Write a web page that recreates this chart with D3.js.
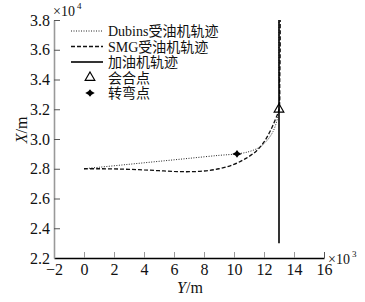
<!DOCTYPE html>
<html>
<head>
<meta charset="utf-8">
<script src="https://cdn.jsdelivr.net/npm/d3@7"></script>
<style>
  body { margin: 0; background: #fff; }
  svg text { font-family: "Liberation Serif", "Noto Sans CJK SC", serif; fill: #111; }
</style>
</head>
<body>
<div id="chart"></div>
<script>
// 数据 (Y ×10^3 m, X ×10^4 m)
const xTicks = [-2, 0, 2, 4, 6, 8, 10, 12, 14, 16];
const yTicks = [2.2, 2.4, 2.6, 2.8, 3.0, 3.2, 3.4, 3.6, 3.8];

const dubinsY = [0, 1, 3, 5, 7, 9, 10.2, 11, 11.7, 12.2, 12.6, 12.85, 13, 13, 13];
const dubinsX = [2.8, 2.81, 2.83, 2.85, 2.87, 2.89, 2.9, 2.915, 2.945, 2.99, 3.05, 3.12, 3.2, 3.5, 3.8];

const smgY = [0, 1, 2, 3, 4, 5, 6, 7, 8, 9, 10, 10.8, 11.5, 12, 12.4, 12.75, 13, 13.05, 13.08, 13.08];
const smgX = [2.8, 2.8, 2.799, 2.796, 2.792, 2.787, 2.782, 2.78, 2.785, 2.8, 2.83, 2.87, 2.92, 2.98, 3.05, 3.13, 3.2, 3.4, 3.6, 3.8];

const tankerY = [13, 13];
const tankerX = [2.3, 3.8];

const meetPoint = [13, 3.2];
const turnPoint = [10.2, 2.9];

const legendNames = ['Dubins受油机轨迹', 'SMG受油机轨迹', '加油机轨迹', '会合点', '转弯点'];

const W = 365, H = 302;
const m = {left: 54, right: 41, top: 20, bottom: 44};

const svg = d3.select('#chart').append('svg')
  .attr('width', W).attr('height', H);

const x = d3.scaleLinear().domain([-2, 16]).range([m.left, W - m.right]);
const y = d3.scaleLinear().domain([2.2, 3.8]).range([H - m.bottom, m.top]);

// 四角星标记
const symbolSpark = {
  draw(ctx, size) {
    const r = Math.sqrt(size) * 0.75, w = r * 0.35;
    ctx.moveTo(-r, 0);
    ctx.lineTo(-w, -w);
    ctx.lineTo(0, -r * 0.8);
    ctx.lineTo(w, -w);
    ctx.lineTo(r, 0);
    ctx.lineTo(w, w);
    ctx.lineTo(0, r * 0.8);
    ctx.lineTo(-w, w);
    ctx.closePath();
  }
};

// X轴 (底部)
const gx = svg.append('g')
  .attr('transform', `translate(0, ${H - m.bottom})`)
  .call(d3.axisBottom(x).tickValues(xTicks).tickSize(0).tickPadding(5).tickFormat(d => d < 0 ? '\u2212' + (-d) : d));
gx.select('.domain').attr('stroke', '#000').attr('stroke-width', 1.6);
gx.selectAll('text').attr('font-size', 16).attr('fill', '#111').attr('dy', '0.75em');
gx.selectAll('.tick').filter(d => d > -2 && d < 16).append('line')
  .attr('y1', 0).attr('y2', -6).attr('stroke', '#999').attr('stroke-width', 1);
gx.selectAll('.tick').filter(d => d === 16).append('line')
  .attr('y1', 0).attr('y2', -6).attr('stroke', '#555').attr('stroke-width', 1);

// Y轴 (左侧)
const gy = svg.append('g')
  .attr('transform', `translate(${m.left}, 0)`)
  .call(d3.axisLeft(y).tickValues(yTicks).tickSize(0).tickPadding(4).tickFormat(d3.format('.1f')));
gy.select('.domain').attr('stroke', '#999').attr('stroke-width', 1.6);
gy.selectAll('text').attr('font-size', 16).attr('fill', '#111');
gy.selectAll('.tick').filter(d => d > 2.2).append('line')
  .attr('x1', 0).attr('x2', 6).attr('stroke', '#555').attr('stroke-width', 1);

// 轴标题与指数
svg.append('text').attr('x', 53).attr('y', 16).attr('font-size', 14).text('×10');
svg.append('text').attr('x', 77).attr('y', 9).attr('font-size', 9).text('4');
svg.append('text').attr('x', 328).attr('y', 264).attr('font-size', 14).text('×10');
svg.append('text').attr('x', 352).attr('y', 257).attr('font-size', 9).text('3');

svg.append('text').attr('x', 190).attr('y', 293).attr('font-size', 16).attr('text-anchor', 'middle')
  .html('<tspan font-style="italic">Y</tspan>/m');
svg.append('text').attr('transform', 'translate(27, 130) rotate(-90)')
  .attr('font-size', 16).attr('text-anchor', 'middle')
  .html('<tspan font-style="italic">X</tspan>/m');

// 轨迹
const curve = d3.line().x(d => x(d[0])).y(d => y(d[1])).curve(d3.curveCatmullRom);

svg.append('path')
  .datum(dubinsY.map((v, i) => [v, dubinsX[i]]))
  .attr('fill', 'none').attr('stroke', '#222').attr('stroke-width', 1)
  .attr('stroke-dasharray', '1,1.5')
  .attr('d', curve);

svg.append('path')
  .datum(smgY.map((v, i) => [v, smgX[i]]))
  .attr('fill', 'none').attr('stroke', '#111').attr('stroke-width', 1.3)
  .attr('stroke-dasharray', '4,2')
  .attr('d', curve);

svg.append('path')
  .datum(tankerY.map((v, i) => [v, tankerX[i]]))
  .attr('fill', 'none').attr('stroke', '#000').attr('stroke-width', 1.6)
  .attr('d', d3.line().x(d => x(d[0])).y(d => y(d[1])));

// 标记点
svg.append('path')
  .attr('transform', `translate(${x(meetPoint[0])}, ${y(meetPoint[1])})`)
  .attr('d', d3.symbol(d3.symbolTriangle, 40)())
  .attr('fill', 'none').attr('stroke', '#000').attr('stroke-width', 1.2);
svg.append('path')
  .attr('transform', `translate(${x(turnPoint[0])}, ${y(turnPoint[1])})`)
  .attr('d', d3.symbol(symbolSpark, 40)())
  .attr('fill', '#000');

// 图例
const legendRows = [31, 46.5, 62, 77.5, 93];
const lg = svg.append('g');
const lx1 = 71, lx2 = 103, mx = 90;
lg.append('line').attr('x1', lx1).attr('x2', lx2).attr('y1', legendRows[0]).attr('y2', legendRows[0])
  .attr('stroke', '#222').attr('stroke-width', 1).attr('stroke-dasharray', '1,1.5');
lg.append('line').attr('x1', lx1).attr('x2', lx2).attr('y1', legendRows[1]).attr('y2', legendRows[1])
  .attr('stroke', '#111').attr('stroke-width', 1.3).attr('stroke-dasharray', '4,2');
lg.append('line').attr('x1', lx1).attr('x2', lx2).attr('y1', legendRows[2]).attr('y2', legendRows[2])
  .attr('stroke', '#000').attr('stroke-width', 1.6);
lg.append('path')
  .attr('transform', `translate(${mx}, ${legendRows[3]})`)
  .attr('d', d3.symbol(d3.symbolTriangle, 40)())
  .attr('fill', 'none').attr('stroke', '#000').attr('stroke-width', 1.2);
lg.append('path')
  .attr('transform', `translate(${mx}, ${legendRows[4]})`)
  .attr('d', d3.symbol(symbolSpark, 40)())
  .attr('fill', '#000');

lg.selectAll('text.lab').data(legendNames).enter().append('text')
  .attr('class', 'lab')
  .attr('x', 108).attr('y', (d, i) => legendRows[i] + 5)
  .attr('font-size', 14)
  .text(d => d);
</script>
</body>
</html>
